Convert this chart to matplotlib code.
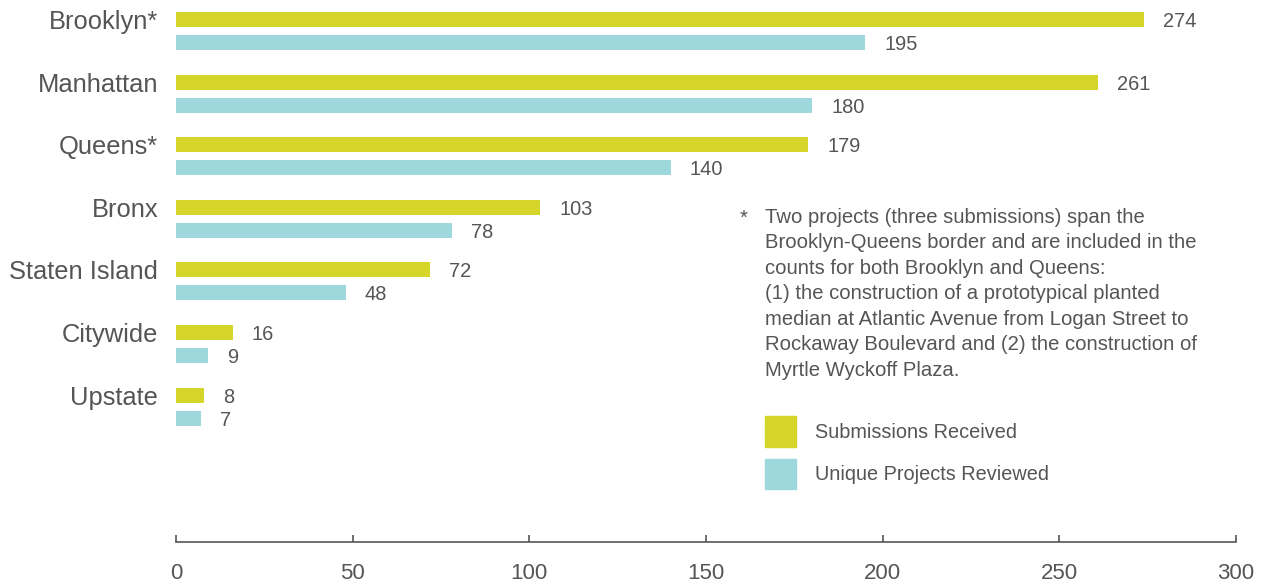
import numpy as np
import matplotlib.pyplot as plt
from matplotlib.patches import Patch

plt.rcParams['font.family'] = ['Liberation Sans', 'DejaVu Sans']

boroughs = ['Brooklyn*', 'Manhattan', 'Queens*', 'Bronx', 'Staten Island', 'Citywide', 'Upstate']
submissions = [274, 261, 179, 103, 72, 16, 8]
projects = [195, 180, 140, 78, 48, 9, 7]

yellow = '#d6d52a'
cyan = '#9ed8dc'
grey = '#555555'

W, H = 1272, 586
fig = plt.figure(figsize=(W / 100, H / 100), dpi=100)
ax = fig.add_axes([176 / W, 44 / H, (1236 - 176) / W, 1 - 44 / H])

y = np.arange(len(boroughs))
off = 0.184
ax.barh(y - off, submissions, height=0.24, color=yellow)
ax.barh(y + off, projects, height=0.24, color=cyan)

for i in range(len(boroughs)):
    ax.text(submissions[i] + 5.4, y[i] - off, str(submissions[i]), va='center_baseline', ha='left',
            fontsize=14.4, color=grey)
    ax.text(projects[i] + 5.4, y[i] + off, str(projects[i]), va='center_baseline', ha='left',
            fontsize=14.4, color=grey)
    ax.text(-5, y[i] - off, boroughs[i], va='center_baseline', ha='right', fontsize=18.4, color=grey)

ax.set_xlim(0, 300)
ax.set_ylim(8.163, -0.495)
ax.set_xticks([0, 50, 100, 150, 200, 250, 300])
ax.set_yticks([])
for s in ['top', 'right', 'left']:
    ax.spines[s].set_visible(False)
ax.spines['bottom'].set_color(grey)
ax.spines['bottom'].set_linewidth(1.2)
ax.tick_params(axis='x', direction='in', length=5, width=1.2, color=grey,
               labelcolor=grey, labelsize=16, pad=15)

note = ('Two projects (three submissions) span the\n'
        'Brooklyn-Queens border and are included in the\n'
        'counts for both Brooklyn and Queens:\n'
        '(1) the construction of a prototypical planted\n'
        'median at Atlantic Avenue from Logan Street to\n'
        'Rockaway Boulevard and (2) the construction of\n'
        'Myrtle Wyckoff Plaza.')
fig.text(740 / W, 1 - 218 / H, '*', ha='left', va='center', fontsize=14.6, color=grey)
fig.text(765 / W, 1 - 208 / H, note, ha='left', va='top', fontsize=14.6, color=grey,
         linespacing=1.43)

handles = [Patch(color=yellow, label='Submissions Received'),
           Patch(color=cyan, label='Unique Projects Reviewed')]
fig.legend(handles=handles, loc='upper left', bbox_to_anchor=(765 / W, 1 - 416 / H),
           frameon=False, fontsize=14.3, handlelength=1.57, handleheight=2.0,
           handletextpad=0.95, labelspacing=0.6, borderpad=0, borderaxespad=0,
           labelcolor=grey)

fig.savefig('out.png', dpi=100)
